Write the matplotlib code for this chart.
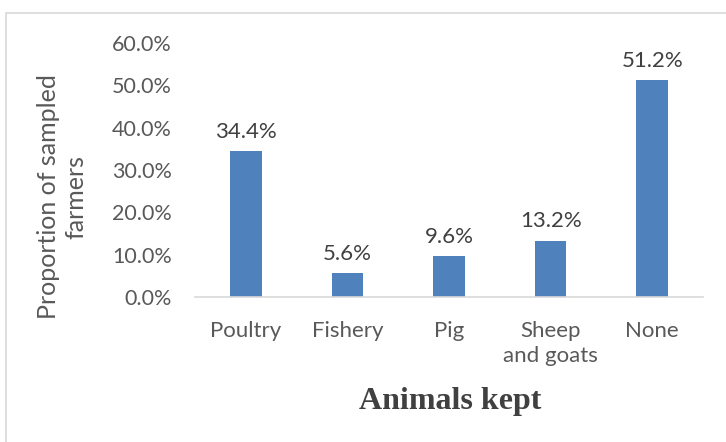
import matplotlib
matplotlib.use("Agg")
import matplotlib.pyplot as plt
from matplotlib.patches import Rectangle

categories = ["Poultry", "Fishery", "Pig", "Sheep\nand goats", "None"]
values = [34.4, 5.6, 9.6, 13.2, 51.2]
yticks = [0, 10, 20, 30, 40, 50, 60]

W, H = 726, 442
fig = plt.figure(figsize=(W / 100, H / 100), dpi=100)
fig.patch.set_facecolor("white")

# outer chart border (cut off at right/bottom)
fig.patches.append(Rectangle((6 / W, -0.1), 1.2, 1 - 13 / H + 0.1,
                             transform=fig.transFigure, fill=False,
                             edgecolor="#D9D9D9", linewidth=1.2))

ax = fig.add_axes([195 / W, 1 - 297 / H, (703 - 195) / W, (297 - 43) / H])
txt = "#595959"
font = "Lato"

x = range(len(categories))
bars = ax.bar(x, values, width=0.31, color="#4F81BD", zorder=2)
for xi, v in zip(x, values):
    ax.annotate(f"{v:.1f}%", (xi, v), xytext=(0, 7), textcoords="offset points",
                ha="center", va="bottom", fontsize=16, color="#404040", family=font)

ax.set_xlim(-0.5, len(categories) - 0.5)
ax.set_ylim(0, 60)
ax.set_yticks(yticks)
ax.set_yticklabels([f"{t:.1f}%" for t in yticks], family=font, fontsize=15.5, color=txt)
ax.set_xticks(list(x))
ax.set_xticklabels(categories, family=font, fontsize=16, color=txt, linespacing=1.35)
ax.tick_params(axis="both", length=0)
ax.tick_params(axis="y", pad=16.5)
ax.tick_params(axis="x", pad=17)
for s in ["top", "right", "left"]:
    ax.spines[s].set_visible(False)
ax.spines["bottom"].set_color("#D9D9D9")
ax.spines["bottom"].set_linewidth(1.2)

fig.text(62 / W, 1 - 197 / H, "Proportion of sampled\nfarmers", rotation=90,
         ha="center", va="center", family=font, fontsize=18, color=txt,
         linespacing=1.2)
fig.text(450 / W, 1 - 401 / H, "Animals kept", ha="center", va="center",
         family="Liberation Serif", fontweight="bold", fontsize=23, color="#404040")

fig.savefig("out.png", dpi=100)
